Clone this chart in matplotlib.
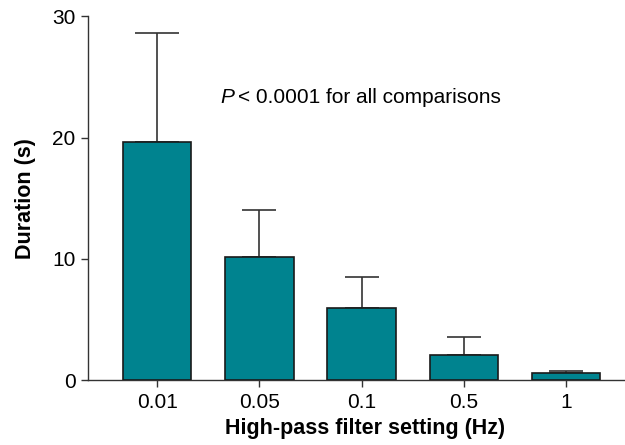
import matplotlib
matplotlib.use("Agg")
import matplotlib.pyplot as plt
import numpy as np

plt.rcParams['font.family'] = ['Liberation Sans', 'DejaVu Sans']

categories = ["0.01", "0.05", "0.1", "0.5", "1"]
durations = [19.6, 10.2, 6.0, 2.1, 0.6]
upper_err = [9.0, 3.8, 2.5, 1.5, 0.2]
y_ticks = [0, 10, 20, 30]

fig = plt.figure(figsize=(6.25, 4.45), dpi=100)
ax = fig.add_axes([0.1408, 0.145, 0.858, 0.819])

x = np.arange(len(categories))
bar_color = "#00838F"
ax.bar(x, durations, width=0.67, color=bar_color, edgecolor="#1a1a1a",
       linewidth=1.2, zorder=3)

# upper-only error bars; the first one has a wider cap
caps = [15.5, 12, 12, 12, 12]
for xi, d, e, c in zip(x, durations, upper_err, caps):
    ax.errorbar(xi, d, yerr=[[0], [e]], fmt="none", ecolor="#333333",
                elinewidth=1.2, capsize=c, capthick=1.2, zorder=2)

ax.set_xlim(-0.676, 4.57)
ax.set_ylim(0, 30)
ax.set_yticks(y_ticks)
ax.set_xticks(x)
ax.set_xticklabels(categories)

for s in ["top", "right"]:
    ax.spines[s].set_visible(False)
for s in ["left", "bottom"]:
    ax.spines[s].set_color("#333333")
    ax.spines[s].set_linewidth(1.0)

ax.tick_params(axis="both", direction="out", length=5, width=1.0,
               color="#333333", labelsize=15, pad=4)

ax.set_xlabel("High-pass filter setting (Hz)", fontsize=15.5, fontweight="bold")
ax.xaxis.set_label_coords(0.517, -0.102)
ax.set_ylabel("Duration (s)", fontsize=15.5, fontweight="bold")
ax.yaxis.set_label_coords(-0.097, 0.5)

ax.text(0.62, 23.3, "P", fontsize=15, va="center", ha="left", fontstyle="italic")
ax.text(0.79, 23.3, "< 0.0001 for all comparisons", fontsize=15,
        va="center", ha="left")

fig.savefig("out.png", dpi=100)
